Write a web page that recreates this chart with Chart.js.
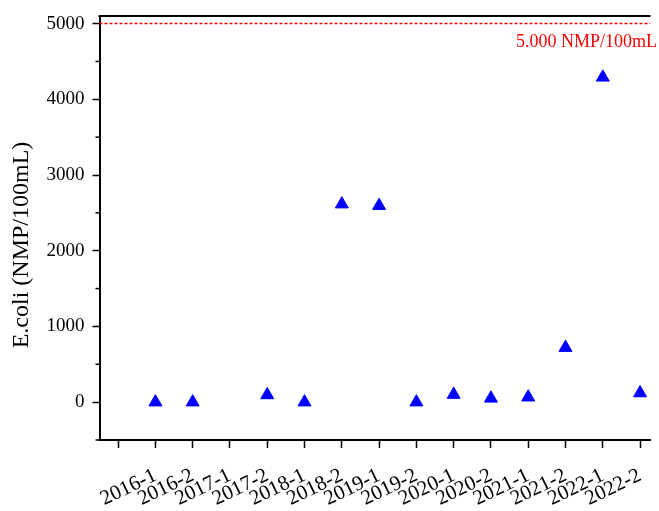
<!DOCTYPE html>
<html>
<head>
<meta charset="utf-8">
<script src="https://cdn.jsdelivr.net/npm/chart.js@4.4.1/dist/chart.umd.min.js"></script>
<style>
  html, body { margin: 0; padding: 0; background: #fff; }
  canvas { display: block; }
</style>
</head>
<body>
<canvas id="ecoliChart" width="659" height="511"></canvas>
<script>
// Sampling periods (year-semester). Axis position 0 stays unlabelled.
const periods = ['2016-1', '2016-2', '2017-1', '2017-2', '2018-1', '2018-2', '2019-1',
                 '2019-2', '2020-1', '2020-2', '2021-1', '2021-2', '2022-1', '2022-2'];
// E.coli counts in NMP/100mL, null where no sample was taken
const ecoli = [0, 0, null, 95, 0, 2615, 2595, 0, 100, 50, 65, 720, 4290, 120];
// Labelled (major) and unlabelled (minor) y ticks
const yMajorTicks = [0, 1000, 2000, 3000, 4000, 5000];
const yMinorTicks = [-500, 500, 1500, 2500, 3500, 4500];
// Regulatory limit line
const limitValue = 5000;
const limitText = '5.000 NMP/100mL';
const yTitle = 'E.coli (NMP/100mL)';

const X_MIN = -0.5, X_MAX = 14.28;
const Y_MIN = -500, Y_MAX = 5100;
const SERIF = '"Liberation Serif", "Times New Roman", serif';

const points = periods
    .map((p, i) => ({ x: i + 1, y: ecoli[i] }))
    .filter(pt => pt.y !== null);

// Top frame line, minor y ticks, axis title and the limit caption
const decorations = {
    id: 'decorations',
    afterDraw(chart) {
        const { ctx, chartArea: area, scales } = chart;
        const y = scales.y;
        ctx.save();

        ctx.strokeStyle = '#000';
        ctx.lineWidth = 2;
        ctx.beginPath();
        ctx.moveTo(area.left - 1, area.top);
        ctx.lineTo(area.right, area.top);
        ctx.stroke();

        ctx.lineWidth = 1.5;
        yMinorTicks.forEach(v => {
            const py = y.getPixelForValue(v);
            ctx.beginPath();
            ctx.moveTo(area.left - 4, py);
            ctx.lineTo(area.left, py);
            ctx.stroke();
        });

        ctx.fillStyle = '#000';
        ctx.font = '24px ' + SERIF;
        ctx.textAlign = 'center';
        ctx.textBaseline = 'middle';
        ctx.translate(22, 245);
        ctx.rotate(-Math.PI / 2);
        ctx.fillText(yTitle, 0, 0);
        ctx.setTransform(1, 0, 0, 1, 0, 0);

        ctx.fillStyle = '#ff0000';
        ctx.font = '18px ' + SERIF;
        ctx.textAlign = 'right';
        ctx.textBaseline = 'alphabetic';
        ctx.fillText(limitText, 657, y.getPixelForValue(limitValue) + 23);

        ctx.restore();
    }
};

new Chart(document.getElementById('ecoliChart'), {
    type: 'scatter',
    data: {
        datasets: [
            {
                data: points,
                pointStyle: 'triangle',
                pointRadius: 7.5,
                pointHoverRadius: 7.5,
                backgroundColor: '#0000ff',
                borderColor: '#0000ff',
                borderWidth: 1
            },
            {
                type: 'line',
                data: [{ x: X_MIN, y: limitValue }, { x: X_MAX, y: limitValue }],
                borderColor: '#ff0000',
                borderWidth: 1.5,
                borderDash: [3, 2],
                pointRadius: 0,
                fill: false
            }
        ]
    },
    options: {
        responsive: false,
        animation: false,
        devicePixelRatio: 1,
        layout: { padding: { top: 16, right: 0, bottom: 0, left: 0 } },
        plugins: { legend: { display: false }, tooltip: { enabled: false } },
        scales: {
            x: {
                type: 'linear',
                min: X_MIN,
                max: X_MAX,
                afterBuildTicks(s) { s.ticks = [0, ...periods.map((p, i) => i + 1)].map(v => ({ value: v })); },
                afterFit(s) { s.height = 71; s.paddingLeft = 0; s.paddingRight = 0; },
                border: { color: '#000', width: 2 },
                grid: { drawOnChartArea: false, drawTicks: true, tickLength: 8, tickColor: '#000', tickWidth: 1.5 },
                ticks: {
                    autoSkip: false,
                    minRotation: 26,
                    maxRotation: 26,
                    padding: 15,
                    color: '#000',
                    font: { family: SERIF, size: 21 },
                    callback: v => periods[v - 1] ?? ''
                }
            },
            y: {
                min: Y_MIN,
                max: Y_MAX,
                afterBuildTicks(s) { s.ticks = yMajorTicks.map(v => ({ value: v })); },
                afterFit(s) { s.width = 99.5; s.paddingTop = 0; s.paddingBottom = 0; },
                border: { color: '#000', width: 2 },
                grid: { drawOnChartArea: false, drawTicks: true, tickLength: 7, tickWidth: 1.5, tickColor: '#000' },
                ticks: {
                    autoSkip: false,
                    padding: 8,
                    color: '#000',
                    font: { family: SERIF, size: 19 },
                    callback: v => v
                }
            }
        }
    },
    plugins: [decorations]
});
</script>
</body>
</html>
